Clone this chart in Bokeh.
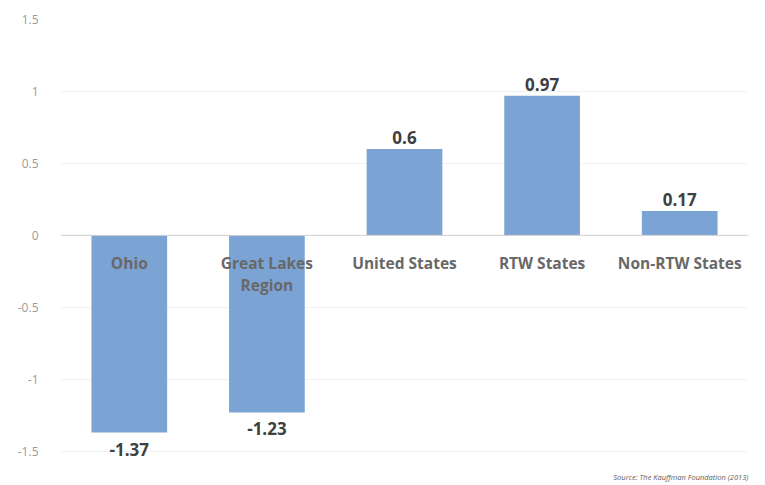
from bokeh.plotting import figure
from bokeh.models import ColumnDataSource, FixedTicker, Span, Title
from bokeh.embed import file_html
from bokeh.resources import INLINE
from bokeh.core.properties import value

categories = ["Ohio", "Great Lakes\nRegion", "United States", "RTW States", "Non-RTW States"]
values = [-1.37, -1.23, 0.6, 0.97, 0.17]
value_labels = ["-1.37", "-1.23", "0.6", "0.97", "0.17"]
y_ticks = [-1.5, -1.0, -0.5, 0.0, 0.5, 1.0, 1.5]
y_tick_labels = ["-1.5", "-1", "-0.5", "0", "0.5", "1", "1.5"]
source_text = "Source: The Kauffman Foundation (2013)"

BAR = "#7ba3d4"
FONT = "Open Sans"

src = ColumnDataSource(dict(cat=categories, val=values))
pos_src = ColumnDataSource(dict(
    cat=[c for c, v in zip(categories, values) if v >= 0],
    val=[v for v in values if v >= 0],
    lab=[l for l, v in zip(value_labels, values) if v >= 0],
))
neg_src = ColumnDataSource(dict(
    cat=[c for c, v in zip(categories, values) if v < 0],
    val=[v for v in values if v < 0],
    lab=[l for l, v in zip(value_labels, values) if v < 0],
))
zero_src = ColumnDataSource(dict(cat=categories, y=[0] * len(categories)))

p = figure(x_range=categories, y_range=(-1.62, 1.5), width=765, height=485,
           output_backend="svg", toolbar_location=None,
           min_border_left=60, min_border_right=17, min_border_top=19, min_border_bottom=17)
p.outline_line_color = None
p.background_fill_color = "white"
p.border_fill_color = "white"

p.vbar(x="cat", top="val", width=0.55, source=src, fill_color=BAR, line_color=None)

p.add_layout(Span(location=0, dimension="width", line_color="#d0d0d0", line_width=1))

p.text(x="cat", y="val", text="lab", source=pos_src, text_align="center",
       text_baseline="bottom", y_offset=-5, text_font=value(FONT),
       text_font_size="17px", text_font_style="bold", text_color="#404040")
p.text(x="cat", y="val", text="lab", source=neg_src, text_align="center",
       text_baseline="top", y_offset=10, text_font=value(FONT),
       text_font_size="17px", text_font_style="bold", text_color="#404040")
p.text(x="cat", y="y", text="cat", source=zero_src, text_align="center",
       text_baseline="top", y_offset=17, text_font=value(FONT),
       text_font_size="15.5px", text_font_style="bold", text_color="#686868",
       text_line_height=1.0)

p.xaxis.visible = False
p.xgrid.grid_line_color = None
p.ygrid.grid_line_color = "#f2f2f2"
p.ygrid.ticker = FixedTicker(ticks=y_ticks)
p.yaxis.ticker = FixedTicker(ticks=y_ticks)
p.yaxis.major_label_overrides = {t: l for t, l in zip(y_ticks, y_tick_labels)}
p.yaxis.axis_line_color = None
p.yaxis.major_tick_line_color = None
p.yaxis.minor_tick_line_color = None
p.yaxis.major_label_text_font = FONT
p.yaxis.major_label_text_font_size = "12px"
p.yaxis.major_label_text_color = "#9a9a9a"
p.yaxis.major_label_standoff = 16

p.add_layout(Title(text=source_text, align="right", text_font=FONT,
                   text_font_size="7.5px", text_font_style="italic",
                   text_color="#606060", offset=0, standoff=3), "below")

open("out.html", "w").write(file_html(p, INLINE))
